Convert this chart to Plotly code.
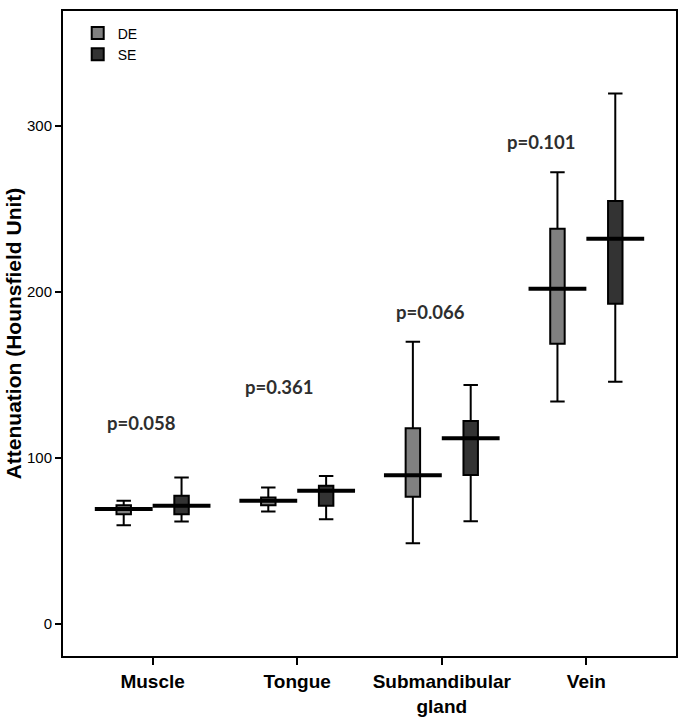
import plotly.graph_objects as go

# regions on the x axis
regions = ['Muscle', 'Tongue', 'Submandibular<br>gland', 'Vein']
p_values = ['p=0.058', 'p=0.361', 'p=0.066', 'p=0.101']
p_label_y = [121, 143, 188, 290]
p_label_dx = [-0.08, -0.12, -0.08, -0.31]

# box statistics (Hounsfield units)
de_low = [59.5, 67.8, 48.7, 133.9]
de_q1 = [66.1, 71.6, 76.6, 168.8]
de_med = [69.2, 74.2, 89.6, 201.9]
de_q3 = [71.6, 76.2, 117.9, 237.9]
de_high = [74.2, 82.2, 170.0, 272.0]

se_low = [61.7, 63.1, 61.9, 145.9]
se_q1 = [66.1, 71.2, 89.8, 192.8]
se_med = [71.2, 80.2, 111.8, 231.9]
se_q3 = [77.2, 83.2, 122.3, 254.6]
se_high = [88.2, 89.2, 143.9, 319.3]

offset = 0.2
half_median = 0.2
idx = list(range(len(regions)))
de_x = [i - offset for i in idx]
se_x = [i + offset for i in idx]


def median_segments(xs, meds):
    lx, ly = [], []
    for x, m in zip(xs, meds):
        lx += [x - half_median, x + half_median, None]
        ly += [m, m, None]
    return lx, ly


fig = go.Figure()

fig.add_trace(go.Box(
    name='DE', x=de_x, q1=de_q1, median=de_med, q3=de_q3,
    lowerfence=de_low, upperfence=de_high,
    boxpoints=False, width=0.1, whiskerwidth=1,
    fillcolor='#808080', line=dict(color='black', width=2),
    hoverinfo='skip'
))
fig.add_trace(go.Box(
    name='SE', x=se_x, q1=se_q1, median=se_med, q3=se_q3,
    lowerfence=se_low, upperfence=se_high,
    boxpoints=False, width=0.1, whiskerwidth=1,
    fillcolor='#333333', line=dict(color='black', width=2),
    hoverinfo='skip'
))

for xs, meds in [(de_x, de_med), (se_x, se_med)]:
    lx, ly = median_segments(xs, meds)
    fig.add_trace(go.Scatter(
        x=lx, y=ly, mode='lines', showlegend=False,
        line=dict(color='black', width=4), hoverinfo='skip'
    ))

for i, (txt, yy, dx) in enumerate(zip(p_values, p_label_y, p_label_dx)):
    fig.add_annotation(
        x=i + dx, y=yy, text='<b>' + txt + '</b>', showarrow=False,
        font=dict(family='Lato, Open Sans, sans-serif', size=18.5, color='#2e2e2e')
    )

fig.update_layout(
    width=680, height=719,
    margin=dict(l=63, r=2, t=11, b=62),
    plot_bgcolor='white', paper_bgcolor='white',
    boxmode='overlay',
    legend=dict(
        x=0.024, y=0.99, xanchor='left', yanchor='top',
        bgcolor='rgba(0,0,0,0)',
        font=dict(family='Liberation Sans, Arial, sans-serif', size=14, color='black'),
        itemwidth=30, tracegroupgap=0
    ),
    font=dict(family='Liberation Sans, Arial, sans-serif', color='#222222')
)

fig.update_xaxes(
    range=[-0.62, 3.62],
    tickmode='array', tickvals=idx,
    ticktext=['<b>' + r + '</b>' for r in regions],
    tickfont=dict(family='Liberation Sans Narrow, Arial Narrow, Liberation Sans, sans-serif',
                  size=19, color='black'),
    ticks='outside', ticklen=7, tickwidth=2, tickcolor='black',
    showline=True, linecolor='black', linewidth=2, mirror=True,
    showgrid=False, zeroline=False
)
fig.update_yaxes(
    range=[-19.2, 369],
    tickvals=[0, 100, 200, 300],
    tickfont=dict(size=15, color='black'),
    ticks='outside', ticklen=6, tickwidth=2, tickcolor='black',
    showline=True, linecolor='black', linewidth=2, mirror=True,
    showgrid=False, zeroline=False,
    title=dict(text='<b>Attenuation (Hounsfield Unit)</b>',
               font=dict(size=21, color='black'), standoff=0)
)

# drop the default page margin so the figure fills the window exactly
fig.write_html('out.html', config={'displayModeBar': False},
               post_script="document.body.style.margin = '0';")
